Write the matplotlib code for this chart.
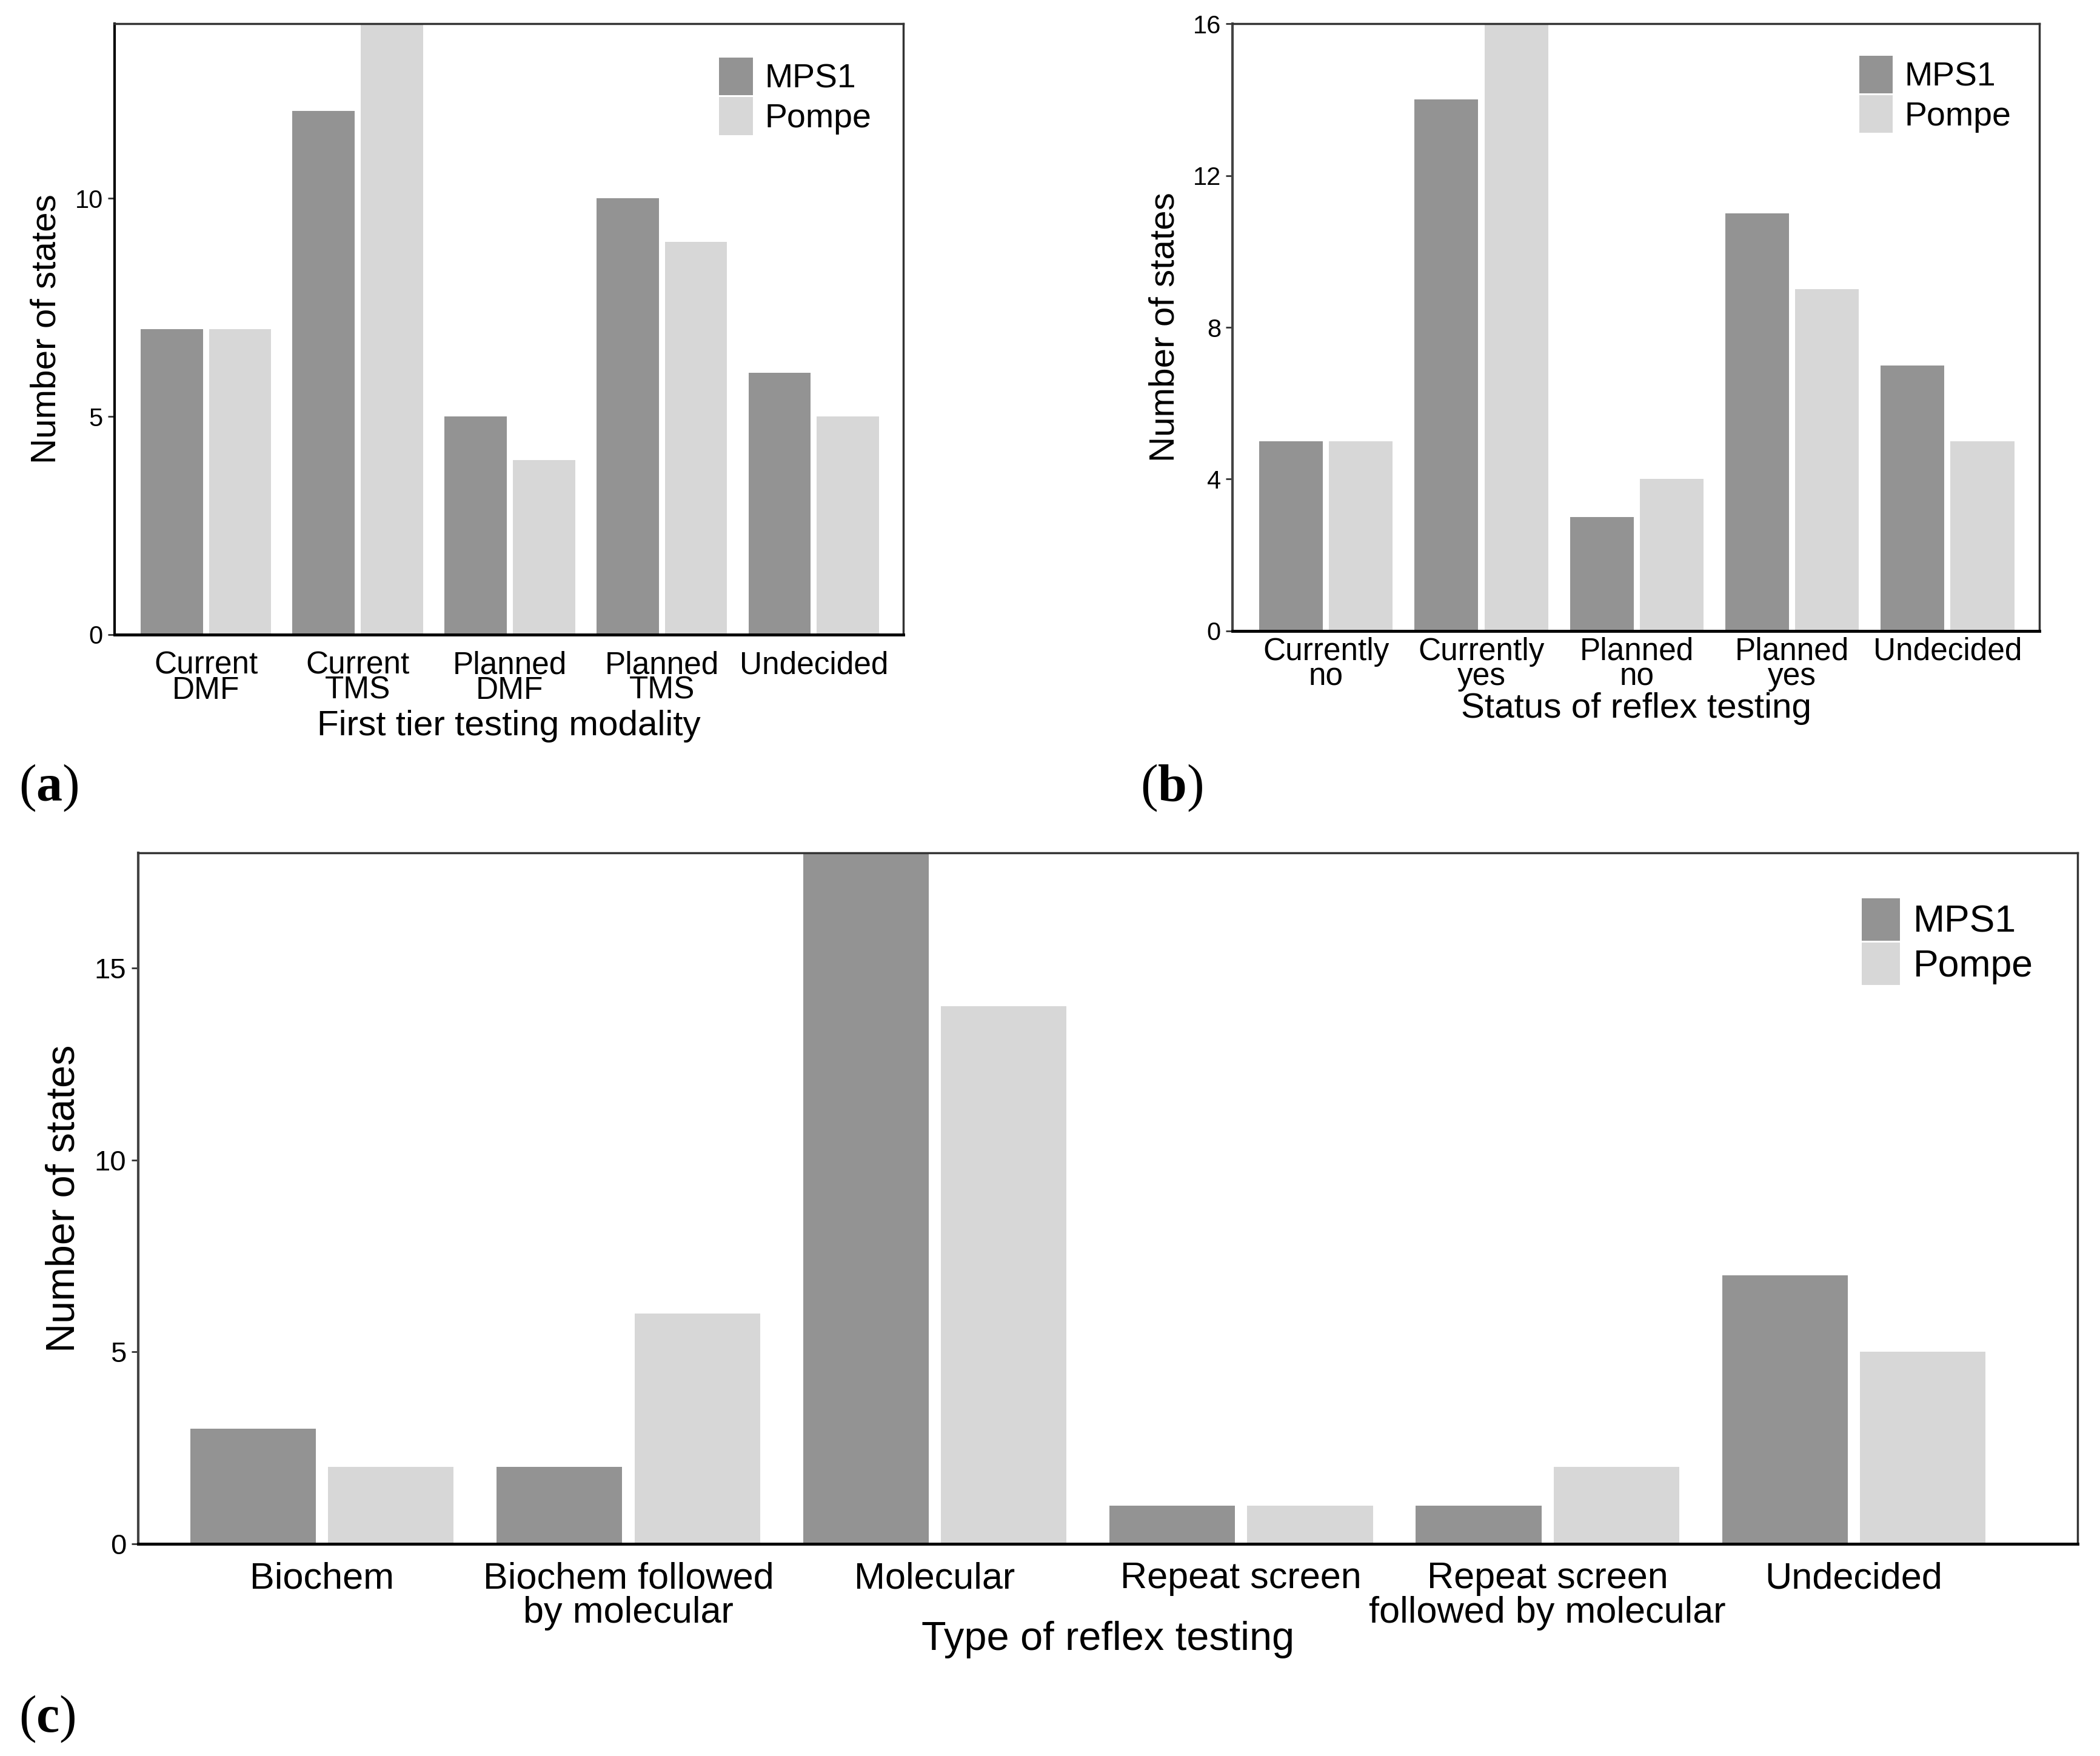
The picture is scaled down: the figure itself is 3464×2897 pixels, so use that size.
import numpy as np
import matplotlib.pyplot as plt

plt.rcParams["font.family"] = ["Liberation Sans", "DejaVu Sans"]
plt.rcParams["mathtext.fontset"] = "custom"
plt.rcParams["mathtext.bf"] = "Liberation Serif:bold"
plt.rcParams["mathtext.rm"] = "Liberation Serif"

# panel (a)
cats_a = ["Current\nDMF", "Current\nTMS", "Planned\nDMF", "Planned\nTMS", "Undecided"]
mps1_a = [7, 12, 5, 10, 6]
pompe_a = [7, 14, 4, 9, 5]

# panel (b)
cats_b = ["Currently\nno", "Currently\nyes", "Planned\nno", "Planned\nyes", "Undecided"]
mps1_b = [5, 14, 3, 11, 7]
pompe_b = [5, 16, 4, 9, 5]

# panel (c)
cats_c = ["Biochem", "Biochem followed\nby molecular", "Molecular", "Repeat screen",
          "Repeat screen\nfollowed by molecular", "Undecided"]
mps1_c = [3, 2, 18, 1, 1, 7]
pompe_c = [2, 6, 14, 1, 2, 5]

C_MPS1 = "#939393"
C_POMPE = "#d7d7d7"

fig = plt.figure(figsize=(34.64, 28.97), dpi=100)


def panel(rect, cats, m, p, ymax, yticks, xlabel, fs_tick, fs_ytick, fs_lab, fs_leg,
          leg_anchor, lsp, xpad, labpad, xright, left_col):
    ax = fig.add_axes(rect)
    x = np.arange(len(cats))
    ax.bar(x - 0.225, m, width=0.41, color=C_MPS1, label="MPS1")
    ax.bar(x + 0.225, p, width=0.41, color=C_POMPE, label="Pompe")
    ax.set_xlim(-0.6, xright)
    ax.set_ylim(0, ymax)
    ax.set_yticks(yticks)
    ax.set_xticks(x)
    ax.set_xticklabels(cats, fontsize=fs_tick, linespacing=lsp)
    ax.tick_params(axis="x", length=0, pad=xpad)
    ax.tick_params(axis="y", length=8, width=2, labelsize=fs_ytick, pad=6, color="#333333")
    ax.set_xlabel(xlabel, fontsize=fs_lab, labelpad=labpad)
    ax.set_ylabel("Number of states", fontsize=fs_lab, labelpad=14)
    for s in ["top", "right"]:
        ax.spines[s].set_color("#333333")
        ax.spines[s].set_linewidth(2.5)
    ax.spines["left"].set_color(left_col)
    ax.spines["left"].set_linewidth(3)
    ax.spines["bottom"].set_color("black")
    ax.spines["bottom"].set_linewidth(3.5)
    ax.legend(loc="upper left", bbox_to_anchor=leg_anchor, frameon=False,
              fontsize=fs_leg, handlelength=1.0, handleheight=1.35,
              handletextpad=0.35, labelspacing=0.05, borderpad=0)
    return ax


panel([0.0546, 0.6386, 0.3756, 0.3479], cats_a, mps1_a, pompe_a, 14, [0, 5, 10],
      "First tier testing modality", 37, 30, 42, 40, (0.745, 0.972), 0.8, 19, 5, 4.59, "black")
panel([0.587, 0.6407, 0.384, 0.3458], cats_b, mps1_b, pompe_b, 16, [0, 4, 8, 12, 16],
      "Status of reflex testing", 37, 30, 42, 40, (0.756, 0.975), 0.8, 7, 1, 4.59, "#444444")
panel([0.0658, 0.1208, 0.9235, 0.3935], cats_c, mps1_c, pompe_c, 18, [0, 5, 10, 15],
      "Type of reflex testing", 44, 34, 48, 45, (0.879, 0.962), 1.0, 21, -12, 5.73, "#444444")

fig.text(0.009, 0.551, r"($\mathbf{a}$)", fontsize=62, family="Liberation Serif", va="center")
fig.text(0.543, 0.551, r"($\mathbf{b}$)", fontsize=62, family="Liberation Serif", va="center")
fig.text(0.009, 0.021, r"($\mathbf{c}$)", fontsize=62, family="Liberation Serif", va="center")

fig.savefig("out.png", dpi=100)
